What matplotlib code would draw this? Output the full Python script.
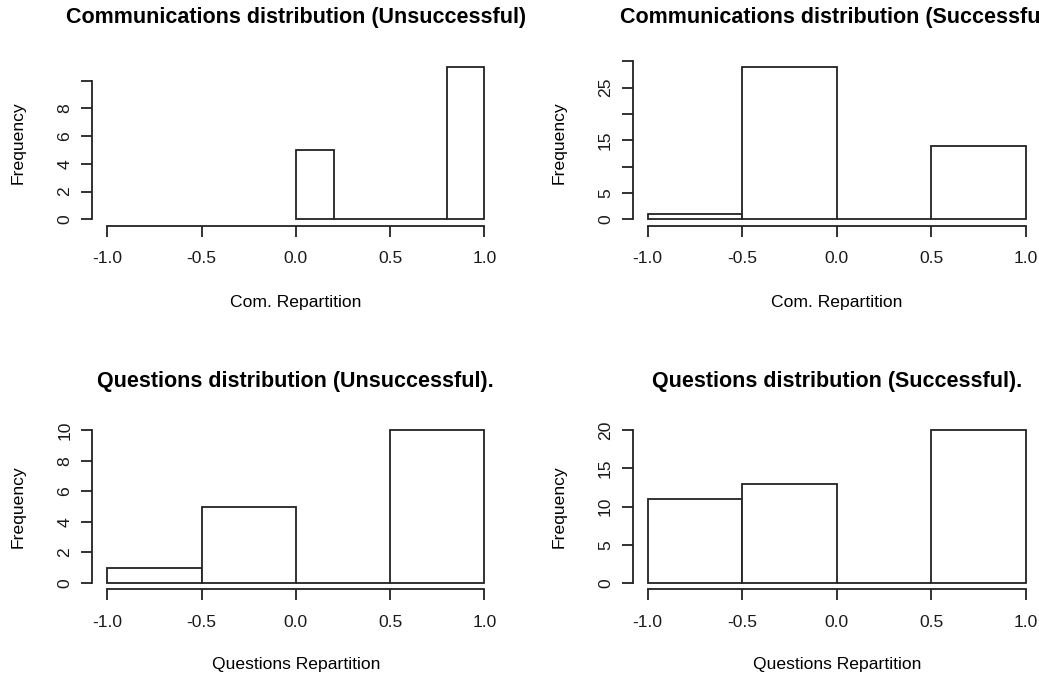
import numpy as np
import matplotlib
matplotlib.use("Agg")
import matplotlib.pyplot as plt

plt.rcParams['font.family'] = ['Liberation Sans', 'DejaVu Sans']

# histogram breaks and counts
com_unsucc_breaks = [0.0, 0.2, 0.4, 0.6, 0.8, 1.0]
com_unsucc_counts = [5, 0, 0, 0, 11]
com_succ_breaks = [-1.0, -0.5, 0.0, 0.5, 1.0]
com_succ_counts = [1, 29, 0, 14]
q_unsucc_breaks = [-1.0, -0.5, 0.0, 0.5, 1.0]
q_unsucc_counts = [1, 5, 0, 10]
q_succ_breaks = [-1.0, -0.5, 0.0, 0.5, 1.0]
q_succ_counts = [11, 13, 0, 20]

x_ticks = [-1.0, -0.5, 0.0, 0.5, 1.0]
x_ticklabels = ["-1.0", "-0.5", "0.0", "0.5", "1.0"]

panels = [
    ("Communications distribution (Unsuccessful)", "Com. Repartition",
     com_unsucc_breaks, com_unsucc_counts, [0, 2, 4, 6, 8, 10], ["0", "2", "4", "6", "8", ""]),
    ("Communications distribution (Successful)", "Com. Repartition",
     com_succ_breaks, com_succ_counts, [0, 5, 10, 15, 20, 25, 30], ["0", "5", "", "15", "", "25", ""]),
    ("Questions distribution (Unsuccessful).", "Questions Repartition",
     q_unsucc_breaks, q_unsucc_counts, [0, 2, 4, 6, 8, 10], ["0", "2", "4", "6", "8", "10"]),
    ("Questions distribution (Successful).", "Questions Repartition",
     q_succ_breaks, q_succ_counts, [0, 5, 10, 15, 20], ["0", "5", "10", "15", "20"]),
]

W, H = 1039, 677
fig = plt.figure(figsize=(W / 100, H / 100), dpi=100)
fig.patch.set_facecolor("white")

# plot regions in pixels (left, top, right, bottom)
regions = [(92.2, 60.5, 499.4, 225.5), (632.6, 60.5, 1040.8, 225.5),
           (92.2, 424.0, 499.4, 589.0), (632.6, 424.0, 1040.8, 589.0)]

lc = "#222222"
lw = 1.3
fs = 12.6

for (title, xlab, breaks, counts, yt, ytl), (l, t, r, b) in zip(panels, regions):
    ax = fig.add_axes([l / W, 1 - b / H, (r - l) / W, (b - t) / H])
    breaks = np.array(breaks)
    widths = np.diff(breaks)
    ax.bar(breaks[:-1], counts, width=widths, align='edge', color='white',
           edgecolor=lc, linewidth=lw)
    m = max(counts)
    ax.set_xlim(-1.08, 1.08)
    ax.set_ylim(-0.04 * m, 1.04 * m)
    for s in ["top", "right"]:
        ax.spines[s].set_visible(False)
    ax.spines["left"].set_bounds(yt[0], yt[-1])
    ax.spines["bottom"].set_bounds(-1.0, 1.0)
    for s in ["left", "bottom"]:
        ax.spines[s].set_linewidth(lw)
        ax.spines[s].set_color(lc)
    ax.set_xticks(x_ticks)
    ax.set_xticklabels(x_ticklabels)
    ax.set_yticks(yt)
    ax.set_yticklabels(ytl)
    ax.tick_params(axis='both', direction='out', length=7.7, width=lw, color=lc,
                   labelsize=fs, labelcolor="#1a1a1a")
    ax.tick_params(axis='x', pad=11)
    ax.tick_params(axis='y', pad=6.5, labelrotation=90)
    for lab in ax.get_yticklabels():
        lab.set_va('center')
    ax.set_title(title, fontsize=15.5, fontweight='bold', pad=0,
                 y=(b - (18 if t < 300 else 382)) / (b - t), va='center')
    ax.set_xlabel(xlab, fontsize=fs, va='center')
    ax.xaxis.set_label_coords(0.5, -(76.5 if t < 300 else 76.0) / (b - t))
    ax.set_ylabel("Frequency", fontsize=fs, va='center')
    ax.yaxis.set_label_coords(-(l - (18 if l < 300 else 559)) / (r - l), 0.5)

fig.savefig("out.png", dpi=100)
